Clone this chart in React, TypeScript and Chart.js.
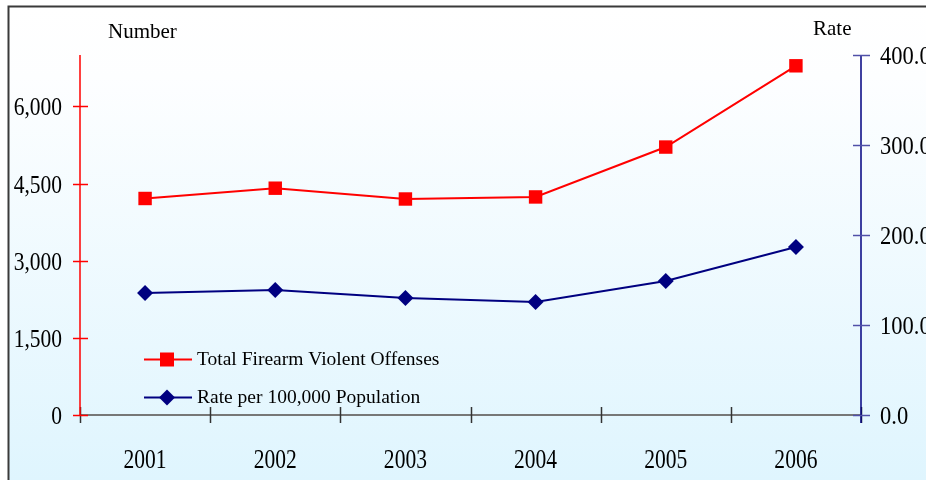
import { useEffect, useRef } from 'react';
import { Chart, registerables } from 'chart.js';

Chart.register(...registerables);

const years = ['2001', '2002', '2003', '2004', '2005', '2006'];
const offenses = [4210, 4410, 4200, 4240, 5210, 6790];
const ratePer100k = [135.6, 139.0, 130.0, 125.6, 149.0, 186.7];
const seriesNames = ['Total Firearm Violent Offenses', 'Rate per 100,000 Population'];
const leftTitle = 'Number';
const rightTitle = 'Rate';
const leftMax = 7000;
const leftTickValues = [0, 1500, 3000, 4500, 6000];
const rightMax = 400;
const rightTickValues = [0, 100, 200, 300, 400];

const RED = '#ff0000';
const NAVY = '#000080';
const SERIF = '"Liberation Serif", "Times New Roman", serif';

const fmtNum = new Intl.NumberFormat('en-US');

const drawCondensed = (ctx: any, text: string, x: number, y: number, sx: number) => {
  ctx.save();
  ctx.translate(x, y);
  ctx.scale(sx, 1);
  ctx.fillText(text, 0, 0);
  ctx.restore();
};

const decor = {
  id: 'decor',
  beforeDraw(chart: any) {
    const { ctx, width, height } = chart;
    ctx.save();
    ctx.fillStyle = '#ffffff';
    ctx.fillRect(0, 0, width, height);
    const g = ctx.createLinearGradient(0, 6, 0, height);
    g.addColorStop(0, '#ffffff');
    g.addColorStop(0.15, '#fdfeff');
    g.addColorStop(1, '#dff5fe');
    ctx.fillStyle = g;
    ctx.fillRect(8, 6, width - 8, height - 6);
    ctx.strokeStyle = '#3a3a3a';
    ctx.lineWidth = 2;
    ctx.beginPath();
    ctx.moveTo(8.5, height);
    ctx.lineTo(8.5, 6.5);
    ctx.lineTo(width, 6.5);
    ctx.stroke();

    const area = chart.chartArea;
    const xs = chart.scales.x;
    const yl = chart.scales.yL;
    const yr = chart.scales.yR;

    // x axis line
    ctx.strokeStyle = '#777777';
    ctx.lineWidth = 2;
    ctx.beginPath();
    ctx.moveTo(area.left, area.bottom);
    ctx.lineTo(area.right, area.bottom);
    ctx.stroke();
    // x ticks (between categories)
    ctx.strokeStyle = '#333333';
    ctx.lineWidth = 1.5;
    for (let i = 0; i <= years.length; i++) {
      const x = Math.round(xs.getPixelForValue(i - 0.5)) + 0.5;
      ctx.beginPath();
      ctx.moveTo(x, area.bottom - 8);
      ctx.lineTo(x, area.bottom + 8);
      ctx.stroke();
    }
    // left axis
    ctx.strokeStyle = RED;
    ctx.lineWidth = 1.5;
    ctx.beginPath();
    ctx.moveTo(area.left, area.top);
    ctx.lineTo(area.left, area.bottom);
    ctx.stroke();
    yl.ticks.forEach((t: any) => {
      const y = Math.round(yl.getPixelForValue(t.value)) + 0.5;
      ctx.beginPath();
      ctx.moveTo(area.left - 7, y);
      ctx.lineTo(area.left + 8, y);
      ctx.stroke();
    });
    // right axis
    ctx.strokeStyle = NAVY;
    ctx.beginPath();
    ctx.moveTo(area.right, area.top);
    ctx.lineTo(area.right, area.bottom + 8);
    ctx.stroke();
    ctx.strokeStyle = '#5050a8';
    yr.ticks.forEach((t: any) => {
      const y = Math.round(yr.getPixelForValue(t.value)) + 0.5;
      ctx.beginPath();
      ctx.moveTo(area.right - 8, y);
      ctx.lineTo(area.right + 9, y);
      ctx.stroke();
    });
    ctx.restore();
  },
  afterDraw(chart: any) {
    const { ctx } = chart;
    const area = chart.chartArea;
    const xs = chart.scales.x;
    const yl = chart.scales.yL;
    const yr = chart.scales.yR;
    ctx.save();
    ctx.fillStyle = '#000000';
    // x labels (condensed serif)
    ctx.font = `28px ${SERIF}`;
    ctx.textAlign = 'center';
    ctx.textBaseline = 'alphabetic';
    years.forEach((lab, i) => {
      drawCondensed(ctx, lab, xs.getPixelForValue(i), 468, 0.77);
    });
    // y labels
    ctx.font = `25px ${SERIF}`;
    ctx.textAlign = 'right';
    yl.ticks.forEach((t: any) => {
      drawCondensed(ctx, fmtNum.format(t.value), area.left - 18, yl.getPixelForValue(t.value) + 9, 0.86);
    });
    ctx.textAlign = 'left';
    yr.ticks.forEach((t: any) => {
      drawCondensed(ctx, Number(t.value).toFixed(1), area.right + 19, yr.getPixelForValue(t.value) + 9, 0.9);
    });
    // axis titles
    ctx.font = `21px ${SERIF}`;
    ctx.textAlign = 'left';
    ctx.fillText(leftTitle, 108, 38);
    ctx.fillText(rightTitle, 813, 35);
    // legend
    const rows = [
      { name: seriesNames[0], color: RED, y: 359.5, base: 365, kind: 'rect' },
      { name: seriesNames[1], color: NAVY, y: 397.5, base: 403, kind: 'diamond' },
    ];
    ctx.font = `19.5px ${SERIF}`;
    rows.forEach((r) => {
      ctx.strokeStyle = r.color;
      ctx.fillStyle = r.color;
      ctx.lineWidth = 2;
      ctx.beginPath();
      ctx.moveTo(144, r.y);
      ctx.lineTo(192, r.y);
      ctx.stroke();
      const cx = 167;
      if (r.kind === 'rect') {
        ctx.fillRect(cx - 7, r.y - 7, 14, 14);
      } else {
        ctx.beginPath();
        ctx.moveTo(cx, r.y - 8);
        ctx.lineTo(cx + 8, r.y);
        ctx.lineTo(cx, r.y + 8);
        ctx.lineTo(cx - 8, r.y);
        ctx.closePath();
        ctx.fill();
      }
      ctx.fillStyle = '#000000';
      ctx.fillText(r.name, 197, r.base);
    });
    ctx.restore();
  },
};

export default function App() {
  const ref = useRef<HTMLCanvasElement | null>(null);
  useEffect(() => {
    document.body.style.margin = '0';
    const canvas = ref.current;
    if (!canvas) return;
    const chart = new Chart(canvas, {
      type: 'line',
      data: {
        labels: years,
        datasets: [
          {
            label: seriesNames[0],
            data: offenses,
            yAxisID: 'yL',
            borderColor: RED,
            backgroundColor: RED,
            borderWidth: 2,
            pointStyle: 'rect',
            pointRadius: 9.5,
            pointHoverRadius: 9.5,
            pointBorderWidth: 0,
            tension: 0,
            clip: false as any,
          },
          {
            label: seriesNames[1],
            data: ratePer100k,
            yAxisID: 'yR',
            borderColor: NAVY,
            backgroundColor: NAVY,
            borderWidth: 2,
            pointStyle: 'rectRot',
            pointRadius: 8,
            pointHoverRadius: 8,
            pointBorderWidth: 0,
            tension: 0,
            clip: false as any,
          },
        ],
      },
      options: {
        responsive: false,
        animation: false,
        events: [],
        layout: { padding: { top: 55, left: 0, right: 0, bottom: 0 } },
        plugins: {
          legend: { display: false },
          title: { display: false },
          tooltip: { enabled: false },
        },
        scales: {
          x: {
            type: 'category',
            offset: true,
            grid: { display: false, drawTicks: false },
            border: { display: false },
            ticks: { display: false },
            afterFit: (s: any) => {
              s.height = 65;
            },
          },
          yL: {
            type: 'linear',
            position: 'left',
            min: 0,
            max: leftMax,
            grid: { display: false, drawTicks: false },
            border: { display: false },
            afterBuildTicks: (s: any) => {
              s.ticks = leftTickValues.map((v) => ({ value: v }));
            },
            ticks: { display: false },
            afterFit: (s: any) => {
              s.width = 80;
            },
          },
          yR: {
            type: 'linear',
            position: 'right',
            min: 0,
            max: rightMax,
            grid: { display: false, drawTicks: false },
            border: { display: false },
            afterBuildTicks: (s: any) => {
              s.ticks = rightTickValues.map((v) => ({ value: v }));
            },
            ticks: { display: false },
            afterFit: (s: any) => {
              s.width = 65;
            },
          },
        },
      },
      plugins: [decor],
    });
    return () => chart.destroy();
  }, []);
  return <canvas ref={ref} width={926} height={480} style={{ display: 'block', width: 926, height: 480 }} />;
}
